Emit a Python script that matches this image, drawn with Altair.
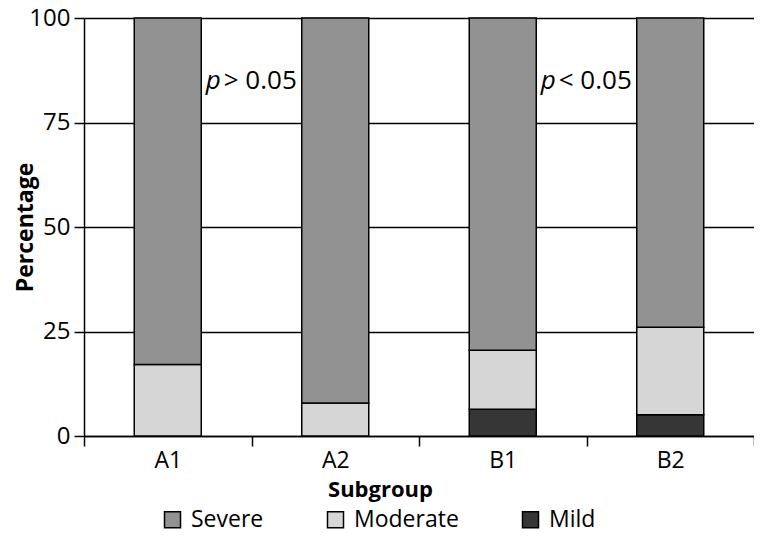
import altair as alt
import pandas as pd

subgroups = ["A1", "A2", "B1", "B2"]
severities = ["Severe", "Moderate", "Mild"]
severe = [82.9, 92.1, 79.5, 74.0]
moderate = [17.1, 7.9, 14.1, 20.9]
mild = [0.0, 0.0, 6.4, 5.1]
colors = ["#929292", "#d6d6d6", "#363636"]

ann_group = ["A1", "B1"]
ann_y = [85, 85]
ann_text = ["> 0.05", "< 0.05"]

rows = []
for i, g in enumerate(subgroups):
    rows.append({"Subgroup": g, "Severity": "Mild", "Value": mild[i], "ord": 0})
    rows.append({"Subgroup": g, "Severity": "Moderate", "Value": moderate[i], "ord": 1})
    rows.append({"Subgroup": g, "Severity": "Severe", "Value": severe[i], "ord": 2})
df = pd.DataFrame(rows)
ann = pd.DataFrame({"Subgroup": ann_group, "y": ann_y, "t": ann_text, "p": ["p", "p"]})

FONT = "Open Sans"

xscale = alt.Scale(domain=subgroups, paddingInner=0, paddingOuter=0)
yscale = alt.Scale(domain=[0, 100])

bars = alt.Chart(df).mark_bar(size=67, stroke="black", strokeWidth=1.5).encode(
    x=alt.X("Subgroup:N", scale=xscale, sort=subgroups,
            axis=alt.Axis(title="Subgroup", labelAngle=0, tickBand="extent",
                          tickSize=10, tickColor="black", tickWidth=1.5,
                          domainColor="black", domainWidth=1.5,
                          labelFontSize=23, labelFont=FONT, labelColor="black",
                          labelPadding=3,
                          titleFontSize=22, titleFont=FONT, titleFontWeight="bold",
                          titleColor="black", titleX=296, titleY=60,
                          titleBaseline="alphabetic", titleAnchor="start", titleAlign="center")),
    y=alt.Y("Value:Q", stack="zero", scale=yscale,
            axis=alt.Axis(title="Percentage", values=[0, 25, 50, 75, 100],
                          grid=True, gridColor="black", gridWidth=1.5,
                          tickSize=10, tickColor="black", tickWidth=1.5,
                          domainColor="black", domainWidth=1.5,
                          labelFontSize=24, labelFont=FONT, labelColor="black",
                          labelPadding=4,
                          titleFontSize=23, titleFont=FONT, titleFontWeight="bold",
                          titleColor="black", titleX=-70, titleBaseline="top")),
    color=alt.Color("Severity:N", scale=alt.Scale(domain=severities, range=colors),
                    legend=alt.Legend(title=None, orient="none", direction="horizontal",
                                      legendX=77, legendY=490,
                                      symbolType="square", symbolSize=256,
                                      symbolStrokeColor="black", symbolStrokeWidth=1.5,
                                      labelFontSize=23, labelFont=FONT, labelColor="black",
                                      labelOffset=7, columnPadding=60, labelLimit=300)),
    order=alt.Order("ord:Q"),
)

ptext = alt.Chart(ann).mark_text(align="left", baseline="middle", dx=38, fontSize=26,
                                 font=FONT, fontStyle="italic", color="black").encode(
    x=alt.X("Subgroup:N", scale=xscale, sort=subgroups), y=alt.Y("y:Q", scale=yscale), text="p:N")
rest = alt.Chart(ann).mark_text(align="left", baseline="middle", dx=56, fontSize=26,
                                font=FONT, color="black").encode(
    x=alt.X("Subgroup:N", scale=xscale, sort=subgroups), y=alt.Y("y:Q", scale=yscale), text="t:N")

chart = alt.layer(bars, ptext, rest).properties(
    width=670, height=418,
    autosize=alt.AutoSizeParams(type="none"),
    padding={"left": 76, "top": 10, "right": 0, "bottom": 96},
).configure_view(stroke="black", strokeWidth=1.5).configure(background="white")

chart.save("out.html", embed_options={"renderer": "svg", "actions": False})
